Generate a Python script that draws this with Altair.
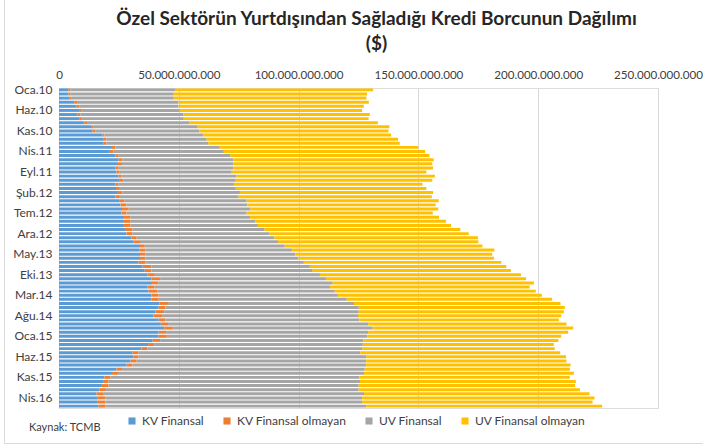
import altair as alt
import pandas as pd

# Categories (monthly, Oca.10 .. Haz.16)
months = ["Oca", "Şub", "Mar", "Nis", "May", "Haz", "Tem", "Ağu", "Eyl", "Eki", "Kas", "Ara"]
years = ["10", "11", "12", "13", "14", "15", "16"]
periods = [f"{m}.{y}" for y in years for m in months][:78]
tick_labels = ["Oca.10", "Haz.10", "Kas.10", "Nis.11", "Eyl.11", "Şub.12", "Tem.12", "Ara.12",
               "May.13", "Eki.13", "Mar.14", "Ağu.14", "Oca.15", "Haz.15", "Kas.15", "Nis.16"]
x_ticks = [0, 50e9, 100e9, 150e9, 200e9, 250e9]

series_names = ["KV Finansal", "KV Finansal olmayan", "UV Finansal", "UV Finansal olmayan"]
series_colors = ["#5B9BD5", "#ED7D31", "#A5A5A5", "#FFC000"]

# Values in billions of $
kv_finansal = [3.9, 3.9, 4.5, 6.4, 7.3, 8.7, 7.8, 8.4, 10.6, 13.4, 14.0, 18.2, 18.7, 18.7, 22.1, 21.2,
               23.5, 24.9, 24.6, 23.5, 24.0, 24.9, 25.4, 23.5, 23.8, 24.6, 23.5, 25.1, 25.7, 26.3, 26.0,
               27.1, 27.1, 27.1, 27.9, 28.2, 30.2, 31.0, 33.8, 33.5, 33.8, 33.8, 33.2, 34.9, 35.8, 36.9,
               38.6, 38.8, 36.9, 37.4, 38.6, 38.6, 41.9, 41.6, 40.2, 39.4, 41.6, 42.5, 43.9, 41.6, 41.6,
               39.1, 37.2, 34.4, 30.7, 31.0, 29.9, 28.2, 24.0, 22.1, 19.0, 18.4, 17.9, 16.8, 15.6, 16.2,
               15.9, 16.5]
kv_finansal_olmayan = [0.8, 0.8, 0.8, 1.1, 1.1, 0.8, 1.1, 1.1, 1.1, 1.1, 1.1, 0.8, 1.1, 1.1, 1.4, 1.4,
                       1.4, 1.6, 1.7, 1.4, 1.1, 1.1, 1.4, 1.4, 1.6, 1.9, 1.9, 2.3, 2.5, 2.8, 2.2, 2.8,
                       2.8, 2.8, 2.8, 2.5, 2.2, 2.8, 2.0, 2.5, 2.2, 2.2, 2.8, 3.7, 2.8, 3.1, 3.6, 2.6,
                       2.8, 3.7, 3.0, 3.0, 3.6, 2.8, 3.7, 3.6, 2.8, 3.0, 3.6, 3.1, 3.4, 3.1, 2.5, 2.5,
                       2.5, 2.2, 2.5, 2.5, 2.3, 2.5, 2.5, 2.3, 2.8, 2.8, 3.1, 3.1, 3.4, 2.8]
uv_finansal = [44.0, 43.2, 42.6, 42.4, 41.5, 40.9, 42.9, 42.6, 42.6, 43.4, 43.4, 41.2, 41.8, 42.6, 43.6,
               46.2, 46.7, 46.2, 46.4, 47.8, 47.0, 48.1, 47.0, 48.1, 48.4, 49.0, 49.5, 50.9, 50.4, 50.8,
               50.1, 49.8, 52.0, 53.1, 55.1, 57.0, 57.5, 57.6, 58.4, 61.2, 62.6, 64.0, 66.2, 66.1, 67.0,
               68.9, 69.2, 72.8, 73.4, 74.0, 74.8, 78.5, 77.6, 80.7, 81.2, 81.8, 81.0, 83.5, 83.4, 84.3,
               83.7, 84.8, 87.1, 89.6, 92.5, 95.0, 95.8, 97.5, 101.3, 102.7, 103.9, 104.9, 104.4, 105.5,
               108.6, 107.2, 107.2, 108.9]
uv_finansal_olmayan = [82.4, 80.7, 80.4, 79.4, 77.3, 76.1, 77.9, 77.1, 78.8, 80.0, 79.0, 78.4, 79.9, 79.8,
                       82.8, 84.0, 83.0, 83.7, 83.1, 83.4, 81.2, 82.8, 82.0, 78.7, 79.5, 80.6, 80.7, 80.2,
                       78.6, 78.4, 77.7, 78.9, 79.6, 80.6, 81.7, 83.3, 85.0, 83.6, 82.5, 84.5, 82.2, 81.5,
                       82.4, 82.0, 83.0, 83.9, 83.5, 84.0, 83.3, 83.9, 85.1, 85.7, 86.2, 86.0, 85.6, 84.8,
                       83.2, 82.8, 83.7, 83.5, 80.9, 81.4, 79.7, 80.4, 83.5, 83.4, 83.6, 85.3, 85.6, 87.6,
                       87.8, 90.1, 90.3, 92.3, 94.1, 97.0, 96.2, 98.5]

series_values = [kv_finansal, kv_finansal_olmayan, uv_finansal, uv_finansal_olmayan]

rows = []
for s_idx, (name, vals) in enumerate(zip(series_names, series_values)):
    for p, v in zip(periods, vals):
        rows.append({"Dönem": p, "Seri": name, "Sıra": s_idx, "Değer": v * 1e9})
df = pd.DataFrame(rows)

FONT = "Lato"

bars = alt.Chart(df).mark_bar().encode(
    y=alt.Y("Dönem:N", sort=periods, title=None,
            scale=alt.Scale(paddingInner=0.28, paddingOuter=0.1),
            axis=alt.Axis(values=tick_labels, ticks=False, domain=False, labelPadding=7,
                          labelFontSize=12, labelColor="#404040", labelFont=FONT, grid=False,
                          labelOverlap=False)),
    x=alt.X("Değer:Q", stack="zero", title=None,
            scale=alt.Scale(domain=[0, 250e9], nice=False),
            axis=alt.Axis(orient="top", values=x_ticks,
                          labelExpr="replace(format(datum.value, ','), regexp(',', 'g'), '.')",
                          ticks=False, domain=False, labelPadding=8, labelFontSize=11.6,
                          labelColor="#404040", labelFont=FONT, grid=True, labelOverlap=False,
                          labelBound=False, labelFlush=False,
                          gridColor="#D9D9D9", gridWidth=1)),
    color=alt.Color("Seri:N", sort=series_names,
                    scale=alt.Scale(domain=series_names, range=series_colors),
                    legend=alt.Legend(title=None, orient="none", direction="horizontal",
                                      legendX=67, legendY=327, symbolType="square",
                                      symbolSize=50, labelFontSize=12, labelFont=FONT,
                                      labelColor="#404040", columnPadding=16, labelOffset=4)),
    order=alt.Order("Sıra:Q", sort="ascending"),
)

source = alt.Chart(pd.DataFrame({"t": ["Kaynak: TCMB"]})).mark_text(
    align="left", baseline="middle", fontSize=11, font=FONT, color="#404040"
).encode(x=alt.value(-30), y=alt.value(340), text="t:N")

frame = alt.Chart(pd.DataFrame({"t": [0]})).mark_rect(
    fill=None, stroke="#D9D9D9", strokeWidth=1
).encode(x=alt.value(-54.5), x2=alt.value(680), y=alt.value(-95), y2=alt.value(355.5))

chart = alt.layer(bars, source, frame).properties(
    width=599, height=320,
    title=alt.TitleParams(
        text=["Özel Sektörün Yurtdışından Sağladığı Kredi Borcunun Dağılımı", "($)"],
        font=FONT, fontSize=19, fontWeight="bold", color="#262626",
        anchor="middle", dx=18, dy=75, offset=14, lineHeight=25),
    autosize=alt.AutoSizeParams(type="none"),
    padding={"left": 59, "top": 88, "right": 45, "bottom": 40},
).configure_view(stroke=None).configure(background="white")

chart.save("out.html", embed_options={"renderer": "svg", "actions": False})
